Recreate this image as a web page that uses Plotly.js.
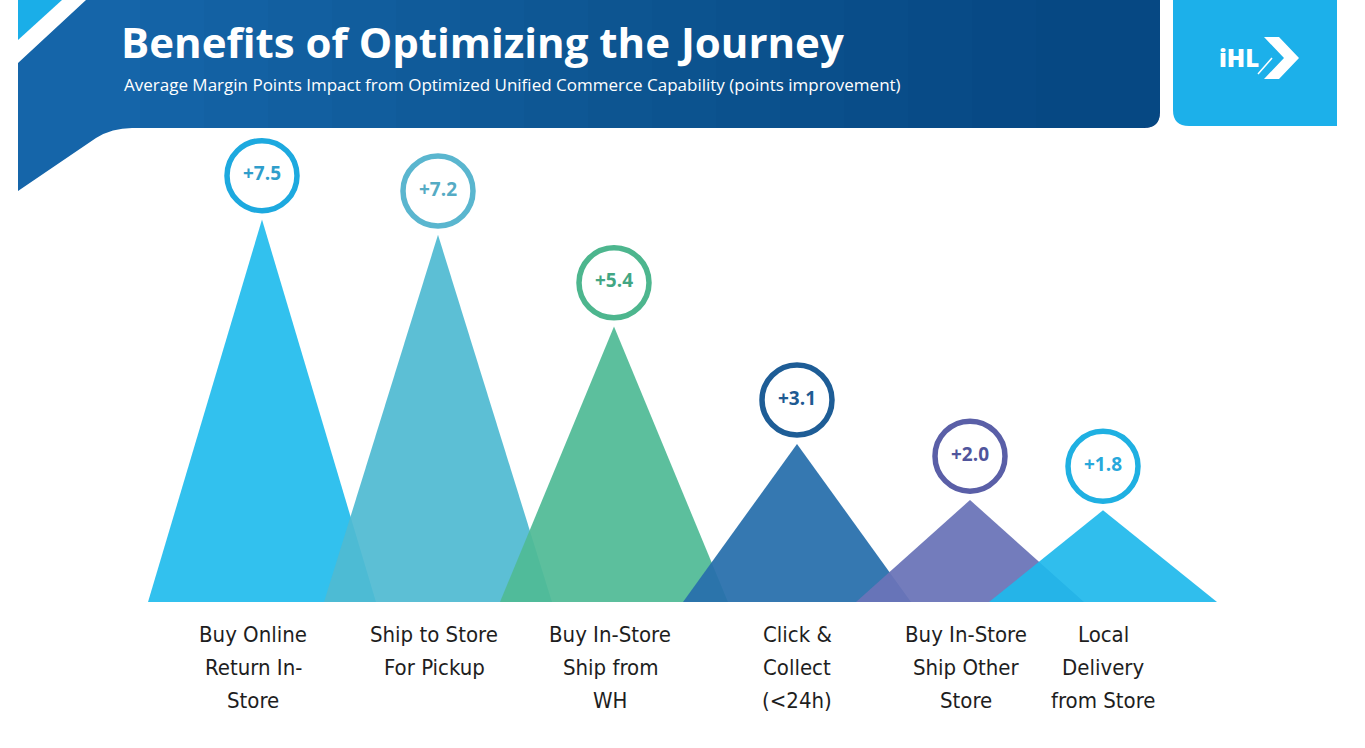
<!DOCTYPE html>
<html>
<head>
<meta charset="utf-8">
<script src="https://cdn.plot.ly/plotly-3.0.1.min.js"></script>
<style>
  html, body { margin: 0; padding: 0; background: #ffffff; }
  #chart { width: 1365px; height: 748px; }
</style>
</head>
<body>
<div id="chart"></div>
<script>
// ---------- DATA ----------
const categories = [
  "Buy Online<br>Return In-<br>Store",
  "Ship to Store<br>For Pickup",
  "Buy In-Store<br>Ship from<br>WH",
  "Click &<br>Collect<br>(<24h)",
  "Buy In-Store<br>Ship Other<br>Store",
  "Local<br>Delivery<br>from Store"
];
const marginPoints = [7.5, 7.2, 5.4, 3.1, 2.0, 1.8];
const valueLabels = ["+7.5", "+7.2", "+5.4", "+3.1", "+2.0", "+1.8"];

// ---------- LAYOUT / STYLE ----------
const W = 1365, H = 748;
const slotCenters = [262, 438, 614, 797, 970, 1103]; // x-axis units (px)
const labelCenters = [253, 434, 610, 797, 966, 1103];
const halfBase = 114;
const baselinePx = 602, pxPerUnit = 51;
const circleOffset = 0.86;

const triColors = [
  "rgba(34,188,237,0.93)", "rgba(80,186,210,0.93)", "rgba(80,186,150,0.93)",
  "rgba(40,112,172,0.94)", "rgba(106,116,184,0.94)", "rgba(30,184,236,0.92)"
];
const ringColors = ["#1DA9DF", "#5AB6CF", "#4DB68E", "#1E5D96", "#5A5FA7", "#1FB0E2"];
const textColors = ["#2F9ECB", "#55ABC4", "#42A683", "#1E5A92", "#50559C", "#27A8DB"];

const traces = [];
marginPoints.forEach((v, i) => {
  const c = slotCenters[i];
  traces.push({
    type: "scatter", mode: "lines",
    x: [c - halfBase, c, c + halfBase, c - halfBase],
    y: [0, v, 0, 0],
    fill: "toself", fillcolor: triColors[i],
    line: { width: 0, color: "rgba(0,0,0,0)" },
    hoverinfo: "skip", showlegend: false
  });
});
traces.push({
  type: "scatter", mode: "markers+text",
  x: slotCenters,
  y: marginPoints.map(v => v + circleOffset),
  text: valueLabels,
  textposition: "middle center",
  textfont: { family: "Open Sans, sans-serif", size: 19, weight: 700, color: textColors },
  marker: { size: 70, color: "#ffffff", line: { width: 5.5, color: ringColors } },
  hoverinfo: "skip", showlegend: false
});

// header shapes (pixel units on x / y2)
const shapes = [];
shapes.push({ type: "path", xref: "x", yref: "y2", layer: "below",
  path: "M18,0 H62 L18,40 Z", fillcolor: "#1AAEE8", line: { width: 0 } });
shapes.push({ type: "path", xref: "x", yref: "y2", layer: "below",
  path: "M86,0 H1160 V112 Q1160,128 1144,128 H132 Q112,128 96,138 L18,191 V63 Z",
  fillcolor: "#1565A9", line: { width: 0 } });
for (let xi = 140; xi < 1100; xi += 64) {
  shapes.push({ type: "path", xref: "x", yref: "y2", layer: "below",
    path: `M${xi},0 H1160 V112 Q1160,128 1144,128 H${xi} Z`,
    fillcolor: "rgba(5,35,80,0.028)", line: { width: 0 } });
}
shapes.push({ type: "path", xref: "x", yref: "y2", layer: "below",
  path: "M1173,0 H1337 V126 H1189 Q1173,126 1173,110 Z",
  fillcolor: "#1CB0EA", line: { width: 0 } });
shapes.push({ type: "path", xref: "x", yref: "y2", layer: "above",
  path: "M1264,37 H1279 L1299,58 L1279,79 H1264 L1284,58 Z",
  fillcolor: "#ffffff", line: { width: 0 } });
shapes.push({ type: "path", xref: "x", yref: "y2", layer: "above",
  path: "M1258,74 L1272,58",
  line: { width: 1.5, color: "#ffffff" } });

const annotations = [];
annotations.push({
  xref: "x", yref: "y2", x: 122, y: 84, xanchor: "left", yanchor: "middle",
  text: "Average Margin Points Impact from Optimized Unified Commerce Capability (points improvement)",
  showarrow: false, font: { family: "Open Sans, sans-serif", size: 17, color: "#ffffff" }
});
annotations.push({
  xref: "x", yref: "y2", x: 1239, y: 57, xanchor: "center", yanchor: "middle",
  text: "iHL", showarrow: false,
  font: { family: "Open Sans, sans-serif", size: 24, weight: 800, color: "#ffffff" }
});
const lineGap = 33, firstLine = 634;
categories.forEach((cat, i) => {
  cat.split("<br>").forEach((line, j) => {
    annotations.push({
      xref: "x", yref: "y2", x: labelCenters[i], y: firstLine + j * lineGap,
      xanchor: "center", yanchor: "middle",
      text: line, showarrow: false, align: "center",
      font: { family: "Liberation Sans Narrow, DejaVu Sans Condensed, sans-serif", size: 22, color: "#1e1e1e" }
    });
  });
});

const layout = {
  width: W, height: H,
  margin: { l: 0, r: 0, t: 0, b: 0, pad: 0 },
  paper_bgcolor: "#ffffff", plot_bgcolor: "#ffffff",
  showlegend: false,
  title: {
    text: "Benefits of Optimizing the Journey",
    x: 121 / W, xanchor: "left", xref: "paper",
    y: 1 - 43 / H, yanchor: "middle", yref: "paper",
    font: { family: "Open Sans, sans-serif", size: 42, weight: 700, color: "#ffffff" }
  },
  xaxis: { range: [0, W], visible: false, fixedrange: true },
  yaxis: { range: [-(H - baselinePx) / pxPerUnit, baselinePx / pxPerUnit], visible: false, fixedrange: true },
  yaxis2: { range: [H, 0], overlaying: "y", visible: false, fixedrange: true },
  shapes: shapes,
  annotations: annotations
};

Plotly.newPlot("chart", traces, layout, { displayModeBar: false, staticPlot: true });
</script>
</body>
</html>
